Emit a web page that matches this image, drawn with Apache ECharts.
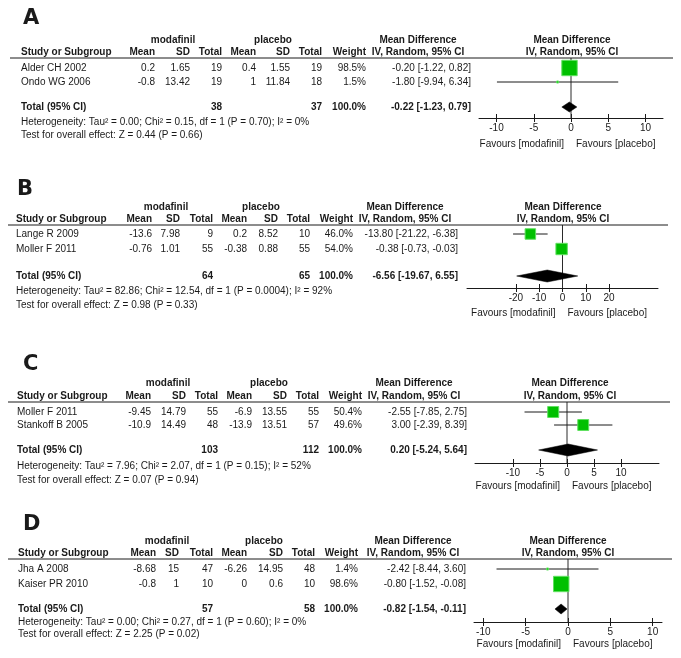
<!DOCTYPE html>
<html>
<head>
<meta charset="utf-8">
<script src="https://cdn.jsdelivr.net/npm/echarts@6/dist/echarts.min.js"></script>
<style>html,body{margin:0;padding:0;background:#fff}#c{width:681px;height:658px}</style>
</head>
<body>
<div id="c"></div>
<script>
// ---------- DATA ----------
// Panel A
const namesA = ['Alder CH 2002', 'Ondo WG 2006'];
const modMeanA = [0.2, -0.8], modSdA = [1.65, 13.42], modNA = [19, 19];
const plaMeanA = [0.4, 1], plaSdA = [1.55, 11.84], plaNA = [19, 18];
const weightA = [98.5, 1.5];
const mdA = [-0.20, -1.80], loA = [-1.22, -9.94], hiA = [0.82, 6.34];
const totalA = [38, 37, 100.0, -0.22, -1.23, 0.79];
const hetA = 'Heterogeneity: Tau² = 0.00; Chi² = 0.15, df = 1 (P = 0.70); I² = 0%';
const testA = 'Test for overall effect: Z = 0.44 (P = 0.66)';
const ticksA = [-10, -5, 0, 5, 10];
// Panel B
const namesB = ['Lange R 2009', 'Moller F 2011'];
const modMeanB = [-13.6, -0.76], modSdB = [7.98, 1.01], modNB = [9, 55];
const plaMeanB = [0.2, -0.38], plaSdB = [8.52, 0.88], plaNB = [10, 55];
const weightB = [46.0, 54.0];
const mdB = [-13.80, -0.38], loB = [-21.22, -0.73], hiB = [-6.38, -0.03];
const totalB = [64, 65, 100.0, -6.56, -19.67, 6.55];
const hetB = 'Heterogeneity: Tau² = 82.86; Chi² = 12.54, df = 1 (P = 0.0004); I² = 92%';
const testB = 'Test for overall effect: Z = 0.98 (P = 0.33)';
const ticksB = [-20, -10, 0, 10, 20];
// Panel C
const namesC = ['Moller F 2011', 'Stankoff B 2005'];
const modMeanC = [-9.45, -10.9], modSdC = [14.79, 14.49], modNC = [55, 48];
const plaMeanC = [-6.9, -13.9], plaSdC = [13.55, 13.51], plaNC = [55, 57];
const weightC = [50.4, 49.6];
const mdC = [-2.55, 3.00], loC = [-7.85, -2.39], hiC = [2.75, 8.39];
const totalC = [103, 112, 100.0, 0.20, -5.24, 5.64];
const hetC = 'Heterogeneity: Tau² = 7.96; Chi² = 2.07, df = 1 (P = 0.15); I² = 52%';
const testC = 'Test for overall effect: Z = 0.07 (P = 0.94)';
const ticksC = [-10, -5, 0, 5, 10];
// Panel D
const namesD = ['Jha A 2008', 'Kaiser PR 2010'];
const modMeanD = [-8.68, -0.8], modSdD = [15, 1], modND = [47, 10];
const plaMeanD = [-6.26, 0], plaSdD = [14.95, 0.6], plaND = [48, 10];
const weightD = [1.4, 98.6];
const mdD = [-2.42, -0.80], loD = [-8.44, -1.52], hiD = [3.60, -0.08];
const totalD = [57, 58, 100.0, -0.82, -1.54, -0.11];
const hetD = 'Heterogeneity: Tau² = 0.00; Chi² = 0.27, df = 1 (P = 0.60); I² = 0%';
const testD = 'Test for overall effect: Z = 2.25 (P = 0.02)';
const ticksD = [-10, -5, 0, 5, 10];

const panelLetters = ['A', 'B', 'C', 'D'];

// ---------- LAYOUT ----------
const layA = {letterX:23, letterY:19, groupY:40, headY:52, lineY:58, rows:[68,82], totalY:107, hetY:122, testY:135, axisY:118, favY:144,
  gridLeft:479, gridW:184, xMin:-12.35, xMax:12.35, lx0:10, lx1:673,
  study:21, m1:155, s1:190, n1:222, m2:256, s2:290, n2:322, w:366, md:471, mdHead:418, plotHead:572, modX:173, plaX:273, dH:10};
const layB = {letterX:17, letterY:190, groupY:207, headY:219, lineY:225, rows:[234,249], totalY:276, hetY:291, testY:305, axisY:288, favY:313,
  gridLeft:467, gridW:191, xMin:-41, xMax:41, lx0:8, lx1:668,
  study:16, m1:152, s1:180, n1:213, m2:247, s2:278, n2:310, w:353, md:458, mdHead:405, plotHead:563, modX:166, plaX:261, dH:12};
const layC = {letterX:23, letterY:365, groupY:383, headY:396, lineY:402, rows:[412,425], totalY:450, hetY:466, testY:480, axisY:463, favY:486,
  gridLeft:475, gridW:184, xMin:-17, xMax:17, lx0:8, lx1:670,
  study:17, m1:151, s1:186, n1:218, m2:252, s2:287, n2:319, w:362, md:467, mdHead:414, plotHead:570, modX:168, plaX:269, dH:12};
const layD = {letterX:23, letterY:525, groupY:541, headY:553, lineY:559, rows:[569,584], totalY:609, hetY:622, testY:634, axisY:622, favY:644,
  gridLeft:474, gridW:188, xMin:-11.1, xMax:11.1, lx0:8, lx1:672,
  study:18, m1:156, s1:179, n1:213, m2:247, s2:283, n2:315, w:358, md:466, mdHead:413, plotHead:568, modX:167, plaX:264, dH:10};

const panels = [
  {names:namesA, mm:modMeanA, ms:modSdA, mn:modNA, pm:plaMeanA, ps:plaSdA, pn:plaNA, w:weightA, md:mdA, lo:loA, hi:hiA, tot:totalA, het:hetA, test:testA, ticks:ticksA, L:layA},
  {names:namesB, mm:modMeanB, ms:modSdB, mn:modNB, pm:plaMeanB, ps:plaSdB, pn:plaNB, w:weightB, md:mdB, lo:loB, hi:hiB, tot:totalB, het:hetB, test:testB, ticks:ticksB, L:layB},
  {names:namesC, mm:modMeanC, ms:modSdC, mn:modNC, pm:plaMeanC, ps:plaSdC, pn:plaNC, w:weightC, md:mdC, lo:loC, hi:hiC, tot:totalC, het:hetC, test:testC, ticks:ticksC, L:layC},
  {names:namesD, mm:modMeanD, ms:modSdD, mn:modND, pm:plaMeanD, ps:plaSdD, pn:plaND, w:weightD, md:mdD, lo:loD, hi:hiD, tot:totalD, het:hetD, test:testD, ticks:ticksD, L:layD}
];

const FONT = '"Liberation Sans", Arial, sans-serif';
const INK = '#1a1a1a';
function txt(x, y, s, align, bold, size, fam) {
  return {type:'text', x:x, y:y, silent:true, z:10,
    style:{text:String(s), fill:INK, font:(bold ? 'bold ' : '') + (size || 10) + 'px ' + (fam || FONT),
      textAlign:align || 'left', textVerticalAlign:'middle'}};
}
const fmtCI = (m, l, h) => m.toFixed(2) + ' [' + l.toFixed(2) + ', ' + h.toFixed(2) + ']';

const grids = [], xAxes = [], yAxes = [], series = [], graphics = [];

panels.forEach((P, i) => {
  const L = P.L;
  // text table
  graphics.push(txt(L.letterX, L.letterY, panelLetters[i], 'left', true, 21, '"DejaVu Sans", sans-serif'));
  graphics.push(txt(L.modX, L.groupY, 'modafinil', 'center', true));
  graphics.push(txt(L.plaX, L.groupY, 'placebo', 'center', true));
  graphics.push(txt(L.mdHead, L.groupY, 'Mean Difference', 'center', true));
  graphics.push(txt(L.plotHead, L.groupY, 'Mean Difference', 'center', true));
  graphics.push(txt(L.study, L.headY, 'Study or Subgroup', 'left', true));
  graphics.push(txt(L.m1, L.headY, 'Mean', 'right', true));
  graphics.push(txt(L.s1, L.headY, 'SD', 'right', true));
  graphics.push(txt(L.n1, L.headY, 'Total', 'right', true));
  graphics.push(txt(L.m2, L.headY, 'Mean', 'right', true));
  graphics.push(txt(L.s2, L.headY, 'SD', 'right', true));
  graphics.push(txt(L.n2, L.headY, 'Total', 'right', true));
  graphics.push(txt(L.w, L.headY, 'Weight', 'right', true));
  graphics.push(txt(L.mdHead, L.headY, 'IV, Random, 95% CI', 'center', true));
  graphics.push(txt(L.plotHead, L.headY, 'IV, Random, 95% CI', 'center', true));
  graphics.push({type:'line', silent:true, z:9, shape:{x1:L.lx0, y1:L.lineY, x2:L.lx1, y2:L.lineY}, style:{stroke:INK, lineWidth:1}});
  P.names.forEach((n, k) => {
    const y = L.rows[k];
    graphics.push(txt(L.study, y, n, 'left'));
    graphics.push(txt(L.m1, y, P.mm[k], 'right'));
    graphics.push(txt(L.s1, y, P.ms[k], 'right'));
    graphics.push(txt(L.n1, y, P.mn[k], 'right'));
    graphics.push(txt(L.m2, y, P.pm[k], 'right'));
    graphics.push(txt(L.s2, y, P.ps[k], 'right'));
    graphics.push(txt(L.n2, y, P.pn[k], 'right'));
    graphics.push(txt(L.w, y, P.w[k].toFixed(1) + '%', 'right'));
    graphics.push(txt(L.md, y, fmtCI(P.md[k], P.lo[k], P.hi[k]), 'right'));
  });
  graphics.push(txt(L.study, L.totalY, 'Total (95% CI)', 'left', true));
  graphics.push(txt(L.n1, L.totalY, P.tot[0], 'right', true));
  graphics.push(txt(L.n2, L.totalY, P.tot[1], 'right', true));
  graphics.push(txt(L.w, L.totalY, P.tot[2].toFixed(1) + '%', 'right', true));
  graphics.push(txt(L.md, L.totalY, fmtCI(P.tot[3], P.tot[4], P.tot[5]), 'right', true));
  graphics.push(txt(L.study, L.hetY, P.het, 'left'));
  graphics.push(txt(L.study, L.testY, P.test, 'left'));
  const zx = L.gridLeft + (0 - L.xMin) / (L.xMax - L.xMin) * L.gridW;
  graphics.push(txt(zx - 7, L.favY, 'Favours [modafinil]', 'right'));
  graphics.push(txt(zx + 5, L.favY, 'Favours [placebo]', 'left'));

  // plot grid (rows indexed 1, 2, total)
  const u = L.rows[1] - L.rows[0];
  const yMin = 1 - (L.rows[0] - L.lineY) / u;
  const yMax = 1 + (L.axisY - L.rows[0]) / u;
  const totIdx = 1 + (L.totalY - L.rows[0]) / u;
  grids.push({left:L.gridLeft, top:L.lineY, width:L.gridW, height:L.axisY - L.lineY, containLabel:false});
  const tickStyle = {color:INK, width:1};
  xAxes.push({type:'value', gridIndex:i, min:L.xMin, max:L.xMax, position:'bottom',
    axisLine:{show:true, onZero:false, lineStyle:{color:INK, width:1}},
    axisTick:{show:true, length:4, customValues:P.ticks, lineStyle:tickStyle},
    axisLabel:{show:true, customValues:P.ticks, margin:5, fontSize:10, color:INK, fontFamily:FONT},
    splitLine:{show:false}});
  xAxes.push({type:'value', gridIndex:i, min:L.xMin, max:L.xMax, position:'bottom',
    axisLine:{show:false, onZero:false},
    axisTick:{show:true, inside:true, length:4, customValues:P.ticks, lineStyle:tickStyle},
    axisLabel:{show:false, customValues:P.ticks},
    splitLine:{show:false}});
  yAxes.push({type:'value', gridIndex:i, inverse:true, min:yMin, max:yMax, show:false});

  const xi = 2 * i;
  // zero line
  series.push({type:'custom', xAxisIndex:xi, yAxisIndex:i, z:1, silent:true, clip:false,
    data:[[0]],
    renderItem:function (params, api) {
      const cs = params.coordSys;
      const x = api.coord([api.value(0), yMin])[0];
      return {type:'line', shape:{x1:x, y1:cs.y, x2:x, y2:cs.y + cs.height}, style:{stroke:'#2a2a2a', lineWidth:1}};
    }});
  // CI lines
  series.push({type:'custom', xAxisIndex:xi, yAxisIndex:i, z:2, silent:true, clip:false,
    data:P.lo.map((l, k) => [l, P.hi[k], k + 1]),
    renderItem:function (params, api) {
      const a = api.coord([api.value(0), api.value(2)]);
      const b = api.coord([api.value(1), api.value(2)]);
      return {type:'line', shape:{x1:a[0], y1:a[1], x2:b[0], y2:b[1]}, style:{stroke:INK, lineWidth:1}};
    }});
  // squares
  series.push({type:'scatter', xAxisIndex:xi, yAxisIndex:i, z:3, silent:true,
    symbol:'rect',
    data:P.md.map((m, k) => [m, k + 1, P.w[k]]),
    symbolSize:function (v) { return Math.max(2, Math.sqrt(v[2] / 100) * 15.5); },
    itemStyle:{color:'#00c000', borderColor:'#5fe05f', borderWidth:1, opacity:1}});
  // diamond
  series.push({type:'custom', xAxisIndex:xi, yAxisIndex:i, z:4, silent:true, clip:false,
    data:[[P.tot[3], P.tot[4], P.tot[5], totIdx]],
    renderItem:function (params, api) {
      const c = api.coord([api.value(0), api.value(3)]);
      const l = api.coord([api.value(1), api.value(3)]);
      const r = api.coord([api.value(2), api.value(3)]);
      const h = L.dH / 2;
      return {type:'polygon', shape:{points:[[l[0], c[1]], [c[0], c[1] - h], [r[0], c[1]], [c[0], c[1] + h]]},
        style:{fill:'#000', stroke:'#000', lineWidth:0.5}};
    }});
});

const chart = echarts.init(document.getElementById('c'), null, {renderer:'canvas'});
chart.setOption({
  animation:false,
  backgroundColor:'#fff',
  grid:grids, xAxis:xAxes, yAxis:yAxes, series:series, graphic:graphics
});
</script>
</body>
</html>
